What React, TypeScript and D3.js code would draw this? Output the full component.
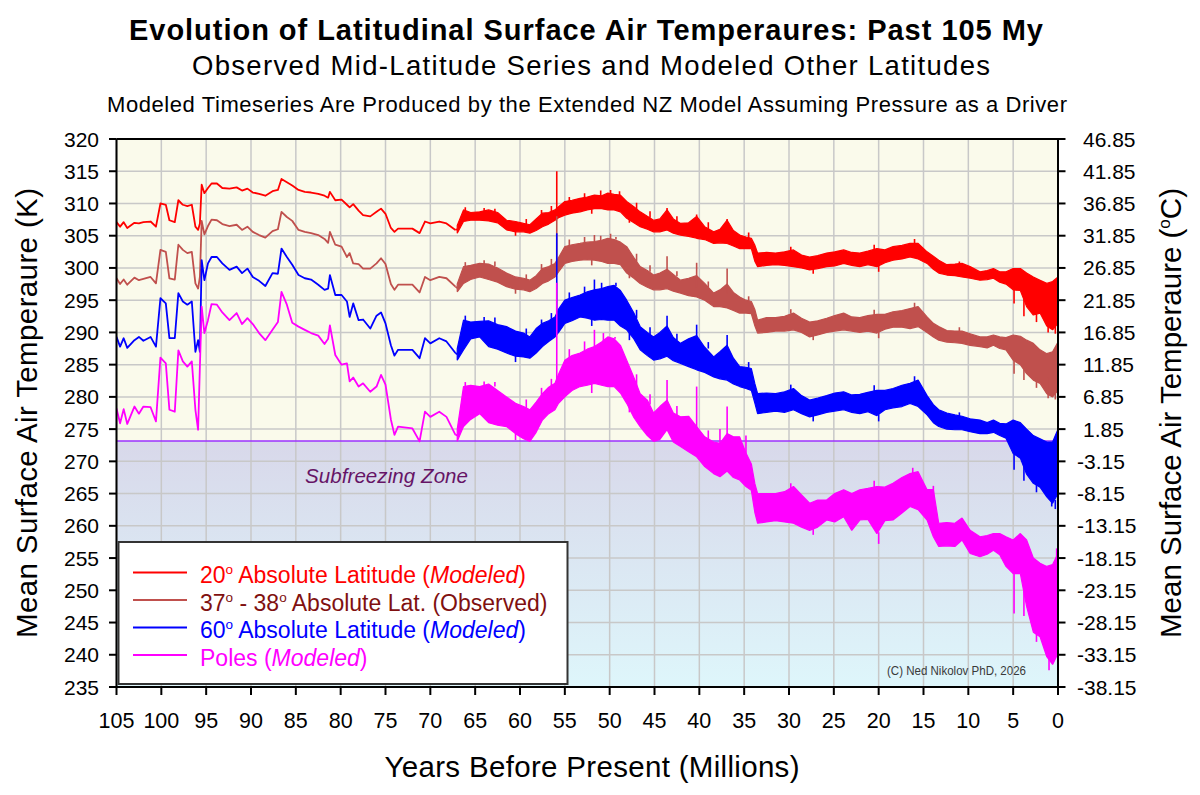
import React from 'react';
import * as d3 from 'd3';

// ---------- Data ----------
// Sparse early part (105 – 67 My), shared ages
const sparseAges = [105, 104.6, 104.2, 103.8, 103, 102.5, 102, 101.2, 100.6, 100.1,
  99.5, 99.1, 98.5, 98.1, 97.6, 97.1, 96.6, 96.2, 95.9, 95.7,
  95.5, 95.2, 94.8, 94.4, 93.8, 93.2, 92.4, 91.6, 91.0, 90.4,
  89.8, 89.1, 88.4, 87.6, 87.0, 86.6, 86.0, 85.4, 84.7, 84.0,
  83.3, 82.5, 81.8, 81.4, 81.2, 80.6, 79.9, 79.3, 79.0, 78.6,
  78.0, 77.5, 76.7, 76.0, 75.5, 75.0, 74.4, 74.0, 73.6, 72.0,
  71.2, 70.6, 70.0, 69.0, 68.2, 67.2];

const lat20Sparse = [307.1, 306.4, 307.1, 306.2, 307.0, 306.9, 307.1, 307.2, 306.4, 310.0,
  309.8, 307.4, 307.1, 310.5, 309.8, 309.6, 309.8, 306.4, 305.9, 306.9,
  312.9, 311.6, 312.4, 313.1, 313.1, 312.4, 312.3, 312.5, 312.0, 312.3,
  311.7, 311.5, 311.2, 311.9, 312.1, 313.8, 313.3, 312.8, 312.1, 311.8,
  311.7, 311.5, 311.2, 310.9, 311.8, 310.5, 310.6, 309.8, 309.4, 309.9,
  308.9, 308.2, 308.0, 308.7, 309.2, 308.4, 306.2, 305.6, 306.1, 306.1,
  305.4, 307.2, 306.9, 307.2, 306.9, 305.9];

const lat37Sparse = [298.4, 297.5, 298.2, 297.4, 298.5, 298.1, 298.3, 298.6, 297.6, 302.8,
  302.5, 298.4, 298.2, 303.6, 302.8, 302.3, 302.5, 297.6, 296.8, 298.6,
  307.3, 305.2, 306.5, 307.5, 307.4, 306.8, 306.5, 306.7, 305.9, 306.4,
  305.6, 305.1, 304.7, 305.7, 306.0, 308.7, 307.9, 307.3, 305.9, 305.6,
  305.4, 305.1, 304.5, 303.9, 305.6, 303.6, 303.3, 301.7, 302.3, 300.7,
  300.6, 299.9, 299.9, 300.7, 301.5, 300.6, 297.5, 296.6, 297.4, 297.4,
  296.2, 298.6, 298.1, 298.6, 298.4, 297.1];

const lat60Sparse = [289.3, 287.8, 289.1, 287.6, 288.8, 289.3, 288.7, 289.3, 287.8, 295.3,
  294.5, 289.1, 289.1, 296.1, 294.8, 294.3, 294.8, 287.0, 288.8, 287.0,
  301.2, 298.1, 300.7, 301.7, 301.7, 300.7, 299.7, 300.2, 299.2, 299.9,
  298.6, 298.0, 297.2, 299.2, 299.1, 303.0, 301.7, 300.5, 298.9, 298.4,
  298.2, 297.4, 296.6, 296.8, 298.9, 295.8, 295.8, 294.8, 292.4, 294.5,
  291.9, 292.0, 290.6, 292.6, 293.1, 291.4, 288.0, 286.4, 287.3, 287.3,
  286.0, 289.1, 288.3, 289.1, 288.6, 286.8];

const polesSparse = [278.2, 275.9, 278.1, 275.8, 278.5, 277.4, 278.5, 278.4, 276.2, 286.1,
  285.2, 278.0, 277.7, 287.2, 285.5, 284.7, 285.5, 278.0, 274.9, 284.7,
  294.0, 289.9, 291.9, 294.4, 294.3, 293.1, 291.9, 293.0, 291.3, 292.2,
  291.3, 289.9, 288.8, 290.4, 291.6, 296.3, 294.3, 291.5, 290.9, 290.4,
  289.9, 289.5, 288.2, 289.0, 291.1, 286.5, 285.0, 285.2, 282.4, 283.0,
  281.6, 282.1, 280.8, 281.6, 283.4, 281.9, 276.5, 274.1, 275.4, 275.1,
  273.1, 277.7, 276.9, 277.7, 276.9, 274.1];

// Dense, noisy part (67 – 0 My): low / high envelope of the noisy trace
const bandAges = [67, 66.3, 65.5, 64.5, 63.5, 62.5, 61.5, 60.5, 59.6, 58.9,
  58.2, 57.5, 56.8, 56.1, 55.7, 55, 54.2, 53.3, 52.5, 51.7,
  50.9, 50.2, 49.5, 48.8, 48.1, 47.3, 46.6, 45.8, 45.1, 44.4,
  43.6, 42.9, 42.1, 41.2, 40.3, 39.4, 38.4, 37.7, 36.9, 36.2,
  35.5, 34.8, 34.2, 33.8, 33.5, 32.5, 31.5, 30.5, 29.5, 28.6,
  27.7, 26.8, 25.8, 24.9, 23.9, 23.0, 22.1, 21.2, 20.2, 19.3,
  18.4, 17.4, 16.5, 15.6, 14.6, 13.9, 13.3, 12.4, 11.5, 10.7,
  9.8, 8.7, 7.9, 7.2, 6.5, 5.8, 5.0, 4.2, 3.5, 2.75,
  2.0, 1.25, 0.6, 0];

const lat20Lo = [305.4, 307.2, 307.4, 307.4, 307.3, 307.0, 305.9, 305.6, 305.6, 305.4,
  305.8, 306.4, 306.8, 307.4, 307.8, 308.2, 308.5, 308.7, 309.0, 309.2,
  309.2, 309.0, 309.0, 308.7, 307.7, 307.0, 306.4, 306.0, 305.6, 305.6,
  305.9, 305.4, 305.1, 304.9, 304.6, 304.4, 303.8, 303.9, 303.8, 303.4,
  303.0, 303.0, 303.0, 301.0, 300.2, 300.4, 300.5, 300.4, 300.2, 300.0,
  299.7, 299.9, 300.2, 300.3, 300.7, 300.4, 300.2, 300.5, 300.2, 300.8,
  301.2, 301.4, 301.7, 301.4, 300.7, 299.8, 299.2, 298.9, 298.8, 298.6,
  298.4, 298.1, 298.2, 298.4, 297.8, 297.5, 296.6, 296.5, 294.0, 292.7,
  293.0, 291.0, 290.4, 291.4];
const lat20Hi = [306.6, 309.0, 308.6, 308.7, 309.0, 308.6, 307.4, 307.2, 306.9, 306.7,
  307.6, 308.5, 308.6, 309.0, 309.5, 310.3, 310.5, 310.8, 311.0, 311.3,
  311.2, 311.6, 311.4, 311.3, 310.3, 309.5, 308.7, 308.0, 307.4, 307.6,
  309.0, 307.6, 306.9, 307.0, 308.0, 306.4, 305.6, 306.0, 307.4, 305.8,
  305.1, 304.8, 304.6, 303.5, 302.3, 302.4, 302.3, 302.5, 302.8, 302.0,
  301.7, 301.9, 302.3, 302.5, 302.8, 302.4, 302.3, 302.6, 303.0, 302.8,
  303.3, 303.5, 303.8, 303.8, 302.5, 301.8, 301.2, 300.5, 300.6, 300.7,
  300.2, 299.4, 299.6, 299.9, 299.4, 299.4, 299.9, 299.9, 299.2, 298.6,
  298.1, 297.6, 297.9, 298.6];

const lat37Lo = [296.3, 297.6, 298.2, 298.6, 298.2, 297.8, 297.1, 296.7, 296.6, 296.3,
  296.8, 297.6, 298.0, 298.6, 299.4, 300.7, 301.0, 301.2, 301.3, 301.2,
  301.0, 300.7, 300.7, 300.5, 299.2, 298.4, 297.6, 297.0, 296.6, 296.6,
  296.8, 296.4, 296.1, 295.7, 295.5, 295.0, 294.0, 294.0, 293.8, 293.4,
  293.0, 293.0, 292.9, 291.0, 289.9, 290.0, 290.2, 290.2, 290.4, 290.0,
  289.3, 289.6, 290.0, 290.2, 290.4, 290.2, 290.0, 290.2, 289.9, 290.5,
  290.8, 290.8, 290.6, 290.9, 290.0, 289.3, 288.8, 288.5, 288.4, 288.3,
  288.0, 287.8, 287.6, 288.0, 287.5, 287.3, 285.7, 285.0, 283.6, 282.6,
  282.1, 280.5, 280.0, 281.0];
const lat37Hi = [297.5, 300.2, 300.4, 300.7, 300.6, 300.0, 299.2, 298.6, 298.4, 298.1,
  298.8, 299.9, 300.2, 300.7, 301.6, 303.3, 303.6, 303.8, 304.0, 304.1,
  304.3, 304.6, 304.4, 304.0, 303.3, 301.6, 300.2, 299.6, 298.9, 299.2,
  299.8, 299.0, 298.1, 298.4, 298.8, 297.6, 296.1, 296.6, 297.5, 296.2,
  295.5, 295.0, 294.8, 293.5, 291.9, 292.3, 292.3, 292.5, 293.0, 292.2,
  291.6, 291.8, 292.2, 292.6, 293.0, 292.4, 292.3, 292.6, 292.8, 292.8,
  293.2, 293.4, 293.7, 294.0, 292.4, 291.4, 290.9, 290.3, 290.2, 290.2,
  289.8, 289.3, 289.3, 289.6, 289.3, 289.2, 289.6, 289.4, 288.8, 288.3,
  287.3, 286.7, 287.0, 288.5];

const lat60Lo = [285.7, 287.3, 289.0, 289.3, 287.8, 287.4, 286.8, 286.3, 286.2, 286.0,
  286.8, 287.8, 288.6, 289.3, 290.0, 291.4, 291.8, 292.4, 292.2, 291.9,
  292.0, 291.9, 291.9, 291.0, 290.4, 289.0, 287.3, 286.4, 285.7, 285.9,
  286.3, 285.6, 285.2, 284.7, 284.2, 283.8, 283.1, 282.8, 282.6, 282.0,
  281.6, 281.3, 281.0, 279.0, 277.4, 277.6, 277.8, 277.6, 278.0, 277.4,
  276.9, 277.2, 277.6, 277.8, 278.0, 277.6, 277.4, 277.7, 277.1, 278.0,
  278.3, 278.5, 279.0, 278.5, 277.2, 276.0, 275.4, 275.0, 274.9, 274.9,
  274.6, 274.3, 274.3, 274.5, 274.0, 273.6, 271.2, 270.5, 268.0, 266.6,
  266.0, 264.5, 263.5, 265.0];
const lat60Hi = [287.5, 291.9, 291.6, 291.7, 291.8, 291.2, 290.9, 290.2, 289.9, 289.3,
  290.6, 291.4, 291.8, 292.4, 293.6, 295.0, 295.4, 295.8, 296.3, 296.6,
  296.8, 297.1, 297.3, 296.5, 295.0, 293.0, 290.9, 290.0, 289.3, 290.0,
  291.0, 289.2, 288.3, 289.0, 289.5, 287.7, 286.2, 287.0, 288.0, 286.0,
  284.7, 284.6, 284.4, 282.0, 280.5, 280.6, 280.5, 280.8, 281.3, 280.2,
  279.5, 279.8, 280.2, 280.6, 280.8, 280.3, 280.4, 280.7, 281.0, 281.0,
  281.3, 281.8, 282.1, 282.6, 280.2, 278.8, 278.0, 277.5, 277.2, 277.0,
  276.6, 276.4, 276.0, 276.4, 275.9, 275.8, 276.4, 276.0, 275.0, 274.0,
  273.5, 273.0, 273.0, 275.0];

const polesLo = [273.1, 275.4, 276.5, 277.4, 276.0, 275.6, 275.4, 274.3, 273.5, 273.1,
  274.5, 276.4, 277.4, 278.0, 279.0, 280.0, 281.0, 281.6, 281.8, 282.1,
  281.8, 281.6, 281.6, 280.6, 279.0, 276.8, 275.4, 274.0, 273.1, 273.4,
  274.9, 273.0, 272.3, 271.5, 270.7, 269.2, 268.1, 267.6, 268.5, 267.5,
  267.1, 266.1, 265.5, 262.0, 260.4, 260.6, 260.8, 260.6, 260.4, 259.8,
  259.3, 259.8, 260.9, 260.6, 261.4, 259.3, 260.9, 261.0, 258.8, 260.8,
  260.9, 262.0, 263.0, 262.5, 260.9, 258.3, 256.8, 256.9, 256.8, 257.8,
  255.7, 255.2, 255.6, 256.2, 255.5, 253.7, 252.6, 252.6, 247.5, 243.5,
  242.8, 239.7, 238.5, 240.2];
const polesHi = [275.0, 281.6, 281.8, 281.6, 282.0, 281.0, 280.0, 279.0, 278.5, 278.0,
  279.2, 280.5, 281.5, 282.1, 283.5, 285.7, 286.4, 286.8, 287.4, 287.8,
  288.5, 289.3, 289.0, 288.0, 285.7, 283.0, 280.5, 279.5, 277.5, 278.5,
  279.5, 277.5, 276.9, 277.0, 275.4, 273.8, 273.0, 272.8, 274.3, 273.8,
  273.8, 271.3, 269.6, 266.5, 265.0, 265.0, 265.0, 265.3, 266.1, 264.8,
  263.5, 264.0, 264.0, 265.0, 265.6, 265.0, 265.6, 265.8, 266.1, 266.0,
  266.6, 267.5, 268.1, 268.4, 265.6, 265.6, 260.4, 260.5, 260.4, 261.2,
  259.3, 258.3, 258.5, 258.8, 258.8, 258.3, 257.8, 258.8, 257.8, 255.0,
  254.2, 253.7, 254.0, 255.7];

// Single spikes sticking out of the noisy trace: [age, from K, to K]
const lat20Spikes = [[55.9, 307.6, 315.0],
  [66.1, 308.5, 309.4], [64.0, 308.4, 309.3], [62.8, 308.4, 309.2], [59.3, 306.5, 307.6], [57.6, 308.0, 309.0],
  [56.5, 308.6, 309.6], [54.5, 310.2, 311.0], [52.8, 310.6, 311.6], [51.0, 311.0, 312.0], [49.9, 311.4, 312.1],
  [48.9, 311.1, 311.9], [47.0, 309.0, 310.1], [45.5, 307.8, 308.8], [43.6, 307.0, 309.3], [42.5, 307.2, 308.0],
  [40.3, 306.0, 308.3], [39.0, 306.0, 307.1], [36.9, 305.0, 307.6], [34.5, 304.6, 305.5], [29.8, 302.6, 303.3],
  [20.5, 302.8, 303.6], [16.0, 303.6, 304.5], [11.0, 300.5, 301.0],
  [60.5, 305.8, 305.0], [52.0, 309.4, 308.4], [47.8, 307.9, 307.0], [27.3, 300.0, 299.1], [20.0, 300.5, 299.4],
  [4.9, 297.5, 294.5], [3.8, 295.5, 292.5], [2.4, 293.2, 291.6], [1.1, 293.0, 290.0], [0.3, 291.6, 289.8]];
const lat37Spikes = [[55.9, 299.0, 308.0],
  [66.1, 299.8, 300.9], [64.0, 300.4, 301.2], [62.8, 300.3, 301.0], [59.3, 298.0, 299.0], [57.6, 299.6, 300.6],
  [56.5, 300.4, 301.4], [54.5, 303.4, 304.4], [52.8, 303.8, 304.8], [51.7, 304.0, 305.1], [51.0, 304.2, 305.0],
  [49.9, 304.5, 305.3], [49.3, 304.4, 304.8], [47.0, 301.0, 302.2], [45.5, 299.4, 300.4], [43.6, 299.0, 301.8],
  [42.5, 298.7, 299.5], [40.3, 297.0, 300.8], [39.0, 297.0, 297.9], [36.9, 296.0, 299.9], [34.5, 294.8, 295.6],
  [29.8, 292.9, 293.6], [20.5, 292.6, 293.5], [16.0, 293.8, 294.6], [11.0, 290.2, 290.8],
  [60.5, 296.8, 296.0], [52.0, 301.4, 300.4], [47.8, 299.3, 298.4], [27.3, 289.6, 288.8], [20.0, 290.1, 289.1],
  [4.9, 287.0, 283.6], [3.8, 285.0, 282.6], [2.4, 283.0, 281.4], [1.1, 283.0, 279.8], [0.3, 281.5, 279.6]];
const lat60Spikes = [[55.9, 290.5, 305.4],
  [66.1, 291.5, 292.6], [64.0, 291.5, 292.4], [62.8, 291.3, 292.3], [59.3, 289.6, 290.6], [57.6, 291.0, 292.0],
  [56.5, 292.0, 293.0], [54.5, 295.2, 296.2], [52.8, 296.0, 297.1], [51.7, 296.5, 298.2], [50.9, 296.6, 297.7],
  [49.3, 297.2, 297.7], [47.0, 292.2, 293.5], [45.5, 289.6, 290.8], [43.6, 289.0, 292.6], [42.5, 288.8, 289.8],
  [40.3, 288.0, 291.2], [39.0, 287.5, 288.5], [36.9, 286.0, 289.6], [34.5, 284.5, 285.4], [29.8, 281.1, 281.9],
  [20.5, 280.8, 281.8], [16.0, 282.2, 283.2], [11.0, 277.0, 277.6],
  [60.5, 286.4, 285.4], [52.0, 292.1, 291.0], [47.8, 290.0, 288.8], [27.3, 277.1, 276.2], [20.0, 277.3, 276.2],
  [4.9, 273.0, 268.7], [3.8, 270.0, 267.0], [2.4, 267.0, 265.2], [0.7, 266.0, 263.0], [0.3, 264.0, 262.6]];
const polesSpikes = [[55.9, 280.0, 297.7],
  [66.1, 281.0, 282.3], [64.0, 281.3, 282.4], [62.8, 281.6, 282.3], [59.3, 278.2, 279.6], [57.6, 280.2, 281.4],
  [56.5, 281.6, 282.8], [54.5, 286.0, 287.4], [52.8, 287.0, 288.6], [51.7, 287.6, 290.4], [50.7, 288.4, 289.9],
  [49.4, 289.0, 289.3], [47.0, 281.5, 283.5], [45.5, 278.8, 280.4], [43.6, 278.0, 282.6], [42.5, 277.2, 278.6],
  [40.3, 274.0, 281.6], [39.0, 273.0, 274.8], [37.7, 272.5, 275.0], [36.9, 272.0, 278.5], [34.8, 271.0, 274.0],
  [29.8, 265.8, 266.6], [20.5, 265.8, 267.0], [16.2, 267.8, 269.0], [13.9, 264.0, 266.2],
  [60.5, 274.5, 273.3], [52.0, 282.0, 280.6], [47.8, 279.4, 277.6], [27.3, 259.6, 258.6], [20.0, 259.0, 257.2],
  [4.9, 254.0, 246.4], [3.8, 251.0, 246.0], [2.4, 245.0, 242.0], [1.0, 241.0, 237.6], [0.15, 250.0, 256.5]];

const xTickValues = [105, 100, 95, 90, 85, 80, 75, 70, 65, 60, 55, 50, 45, 40, 35, 30, 25, 20, 15, 10, 5, 0];
const yTickValues = [235, 240, 245, 250, 255, 260, 265, 270, 275, 280, 285, 290, 295, 300, 305, 310, 315, 320];
const freezingK = 273.15;

const FONT = "Arial, 'Liberation Sans', Helvetica, sans-serif";

export default function App() {
  const L = 116.5, R = 1058, T = 139, B = 687;
  const x = d3.scaleLinear().domain([105, 0]).range([L, R]);
  const y = d3.scaleLinear().domain([235, 320]).range([B, T]);

  const series = [
    { key: 'lat20', color: '#FF0000', sparse: lat20Sparse, lo: lat20Lo, hi: lat20Hi, spikes: lat20Spikes },
    { key: 'lat37', color: '#C0504D', sparse: lat37Sparse, lo: lat37Lo, hi: lat37Hi, spikes: lat37Spikes },
    { key: 'lat60', color: '#0000FF', sparse: lat60Sparse, lo: lat60Lo, hi: lat60Hi, spikes: lat60Spikes },
    { key: 'poles', color: '#FF00FF', sparse: polesSparse, lo: polesLo, hi: polesHi, spikes: polesSpikes },
  ];

  const sup = (dy: number) => ({ fontSize: 13.5, dy });

  return (
    <div style={{ position: 'absolute', left: 0, top: 0 }}>
      <svg width={1200} height={795} fontFamily={FONT} style={{ display: 'block', background: '#fff' }}>
        <defs>
          <linearGradient id="frzGrad" x1="0" y1="0" x2="0" y2="1">
            <stop offset="0" stopColor="#D8D8EA" />
            <stop offset="1" stopColor="#DEF6FB" />
          </linearGradient>
          <clipPath id="plotClip">
            <rect x={L} y={T} width={R - L} height={B - T} />
          </clipPath>
        </defs>

        {/* Titles */}
        <text x={586} y={40} textAnchor="middle" fontWeight="bold" fontSize={29} textLength={914} lengthAdjust="spacing">Evolution of Latitudinal Surface Air Temperaures: Past 105 My</text>
        <text x={591} y={75} textAnchor="middle" fontSize={27.5} textLength={798} lengthAdjust="spacing">Observed Mid-Latitude Series and Modeled Other Latitudes</text>
        <text x={587} y={112} textAnchor="middle" fontSize={22} textLength={960} lengthAdjust="spacing">Modeled Timeseries Are Produced by the Extended NZ Model Assuming Pressure as a Driver</text>

        {/* Background */}
        <rect x={L} y={T} width={R - L} height={y(freezingK) - T} fill="#FAFAEB" />
        <rect x={L} y={y(freezingK)} width={R - L} height={B - y(freezingK)} fill="url(#frzGrad)" />

        {/* Grid */}
        <g stroke="#C8C8C8" strokeWidth={1.5}>
          {xTickValues.map(v => <line key={'gx' + v} x1={x(v)} x2={x(v)} y1={T} y2={B} />)}
          {yTickValues.map(v => <line key={'gy' + v} x1={L} x2={R} y1={y(v)} y2={y(v)} />)}
        </g>

        {/* Freezing line */}
        <line x1={L} x2={R} y1={y(freezingK)} y2={y(freezingK)} stroke="#9B30FF" strokeWidth={1.5} />
        <text x={305} y={483} fontSize={20.5} fontStyle="italic" fill="#661466" textLength={163} lengthAdjust="spacing">Subfreezing Zone</text>

        {/* Series */}
        <g clipPath="url(#plotClip)">
          {series.map(s => {
            const sparsePath = d3.line<number>().x((_, i) => x(sparseAges[i])).y(d => y(d))(s.sparse) || '';
            const bandPath = d3.area<number>()
              .x((_, i) => x(bandAges[i]))
              .y0((_, i) => y(s.lo[i]))
              .y1((_, i) => y(s.hi[i]))(s.lo) || '';
            const joinPath = d3.line<[number, number]>().x(d => x(d[0])).y(d => y(d[1]))([
              [sparseAges[sparseAges.length - 1], s.sparse[s.sparse.length - 1]],
              [bandAges[0], (s.lo[0] + s.hi[0]) / 2],
            ]) || '';
            return (
              <g key={s.key}>
                <path d={sparsePath} fill="none" stroke={s.color} strokeWidth={1.8} strokeLinejoin="round" />
                <path d={joinPath} fill="none" stroke={s.color} strokeWidth={1.8} />
                <path d={bandPath} fill={s.color} stroke={s.color} strokeWidth={1.2} strokeLinejoin="bevel" />
                {s.spikes.map((sp, i) => (
                  <line key={i} x1={x(sp[0])} x2={x(sp[0])} y1={y(sp[1])} y2={y(sp[2])} stroke={s.color} strokeWidth={1.6} />
                ))}
              </g>
            );
          })}
        </g>

        {/* Axes frame */}
        <g stroke="#000" strokeWidth={2} fill="none">
          <line x1={L} x2={R} y1={T} y2={T} />
          <line x1={L} x2={R} y1={B} y2={B} />
          <line x1={L} x2={L} y1={T} y2={B} />
          <line x1={R} x2={R} y1={T} y2={B} />
          {yTickValues.map(v => <line key={'tl' + v} x1={L - 7.5} x2={L} y1={y(v)} y2={y(v)} />)}
          {yTickValues.map(v => <line key={'tr' + v} x1={R} x2={R + 7.5} y1={y(v)} y2={y(v)} />)}
          {xTickValues.map(v => <line key={'tb' + v} x1={x(v)} x2={x(v)} y1={B} y2={B + 8} />)}
        </g>

        {/* Tick labels */}
        <g fontSize={21} fill="#000">
          {yTickValues.map(v => (
            <text key={'ll' + v} x={99} y={y(v) + 7.5} textAnchor="end">{v}</text>
          ))}
          {yTickValues.map(v => {
            const c = v - 273.15;
            return (
              <text key={'rl' + v} x={c < 0 ? 1077 : 1083} y={y(v) + 7.5} textAnchor="start">{d3.format('.2f')(c).replace('−', '-')}</text>
            );
          })}
          {xTickValues.map(v => (
            <text key={'xl' + v} x={x(v)} y={727.5} textAnchor="middle" fontSize={21.5}>{v}</text>
          ))}
        </g>

        {/* Axis titles */}
        <text x={592} y={777} textAnchor="middle" fontSize={29.5} textLength={415} lengthAdjust="spacing">Years Before Present (Millions)</text>
        <text transform="translate(37,413) rotate(-90)" textAnchor="middle" fontSize={29.5} textLength={450} lengthAdjust="spacing">Mean Surface Air Temperaure (K)</text>
        <text transform="translate(1181,413) rotate(-90)" textAnchor="middle" fontSize={29.5}>
          Mean Surface Air Temperaure (<tspan fontSize={17} dy={-11}>o</tspan><tspan dy={11}>C)</tspan>
        </text>

        {/* Copyright */}
        <text x={887} y={675} fontSize={13} fill="#3a3a3a" textLength={139} lengthAdjust="spacingAndGlyphs">(C) Ned Nikolov PhD, 2026</text>

        {/* Legend */}
        <rect x={118.5} y={542} width={449} height={142} fill="#fff" stroke="#333" strokeWidth={2} />
        {[
          { color: '#FF0000', text: '#FF0000' },
          { color: '#C0504D', text: '#801010' },
          { color: '#0000FF', text: '#0000FF' },
          { color: '#FF00FF', text: '#FF00FF' },
        ].map((r, i) => {
          const ly = 572.5 + i * 27.5;
          return (
            <g key={'lg' + i}>
              <line x1={133} x2={187} y1={ly} y2={ly} stroke={r.color} strokeWidth={2} />
              <text x={200} y={ly + 10.5} fontSize={23} fill={r.text}>
                {i === 0 && (<>20<tspan {...sup(-9)}>o</tspan><tspan dy={9}> Absolute Latitude (</tspan><tspan fontStyle="italic">Modeled</tspan>)</>)}
                {i === 1 && (<>37<tspan {...sup(-9)}>o</tspan><tspan dy={9}> - 38</tspan><tspan {...sup(-9)}>o</tspan><tspan dy={9}> Absolute Lat. (Observed)</tspan></>)}
                {i === 2 && (<>60<tspan {...sup(-9)}>o</tspan><tspan dy={9}> Absolute Latitude (</tspan><tspan fontStyle="italic">Modeled</tspan>)</>)}
                {i === 3 && (<>Poles (<tspan fontStyle="italic">Modeled</tspan>)</>)}
              </text>
            </g>
          );
        })}
      </svg>
    </div>
  );
}
